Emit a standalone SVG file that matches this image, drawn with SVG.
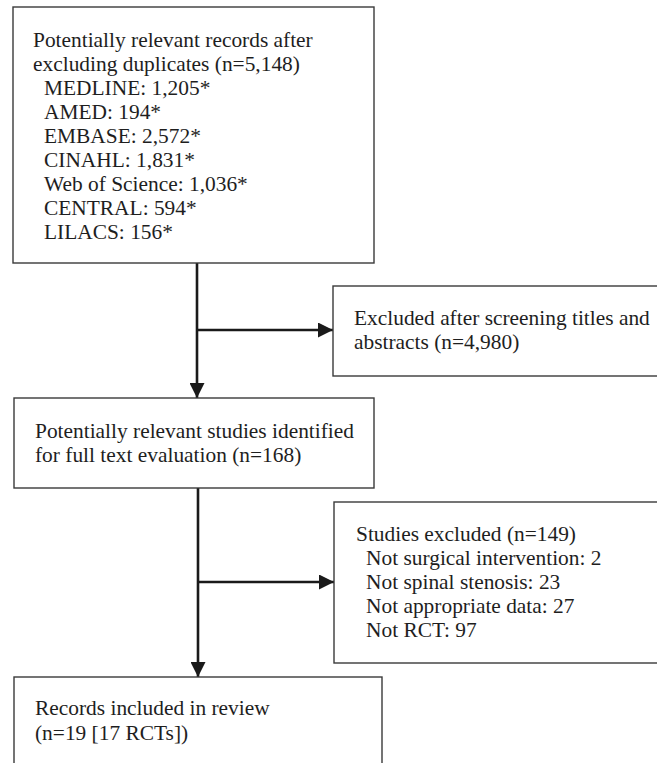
<svg xmlns="http://www.w3.org/2000/svg" width="657" height="763" viewBox="0 0 657 763">
<style>
.box{fill:#fff;stroke:#3a3a3a;stroke-width:1.4}
.t{font-family:"Liberation Serif","Times New Roman",serif;font-size:21.4px;fill:#1e1e1e}
.c{fill:none;stroke:#1a1a1a;stroke-width:2.6}
</style>
<defs>
<marker id="ah" viewBox="0 0 15 15" refX="15" refY="7.5" markerWidth="15" markerHeight="15" markerUnits="userSpaceOnUse" orient="auto">
<path d="M0,0 L15,7.5 L0,15 Z" fill="#1a1a1a"/>
</marker>
</defs>
<rect width="657" height="763" fill="#fff"/>
<g id="connectors">
<line class="c" x1="197" y1="263" x2="197" y2="398" marker-end="url(#ah)"/>
<line class="c" x1="197" y1="330" x2="333" y2="330" marker-end="url(#ah)"/>
<line class="c" x1="198" y1="488" x2="198" y2="677" marker-end="url(#ah)"/>
<line class="c" x1="198" y1="582" x2="334" y2="582" marker-end="url(#ah)"/>
</g>
<g id="records">
<rect class="box" x="13" y="7" width="361" height="256"/>
<text class="t" x="33" y="47">Potentially relevant records after</text>
<text class="t" x="33" y="71">excluding duplicates (n=5,148)</text>
<text class="t" x="44" y="95">MEDLINE: 1,205*</text>
<text class="t" x="44" y="119">AMED: 194*</text>
<text class="t" x="44" y="143">EMBASE: 2,572*</text>
<text class="t" x="44" y="167">CINAHL: 1,831*</text>
<text class="t" x="44" y="191">Web of Science: 1,036*</text>
<text class="t" x="44" y="215">CENTRAL: 594*</text>
<text class="t" x="44" y="239">LILACS: 156*</text>
</g>
<g id="excluded1">
<rect class="box" x="333" y="286" width="340" height="90"/>
<text class="t" x="354" y="325">Excluded after screening titles and</text>
<text class="t" x="354" y="349">abstracts (n=4,980)</text>
</g>
<g id="fulltext">
<rect class="box" x="14" y="398" width="360" height="90"/>
<text class="t" x="35" y="438">Potentially relevant studies identified</text>
<text class="t" x="35" y="462">for full text evaluation (n=168)</text>
</g>
<g id="excluded2">
<rect class="box" x="334" y="502" width="340" height="161"/>
<text class="t" x="356" y="541">Studies excluded (n=149)</text>
<text class="t" x="366" y="565">Not surgical intervention: 2</text>
<text class="t" x="366" y="589">Not spinal stenosis: 23</text>
<text class="t" x="366" y="613">Not appropriate data: 27</text>
<text class="t" x="366" y="637">Not RCT: 97</text>
</g>
<g id="included">
<rect class="box" x="14" y="677" width="368" height="100"/>
<text class="t" x="35" y="715">Records included in review</text>
<text class="t" x="35" y="740">(n=19 [17 RCTs])</text>
</g>
</svg>
